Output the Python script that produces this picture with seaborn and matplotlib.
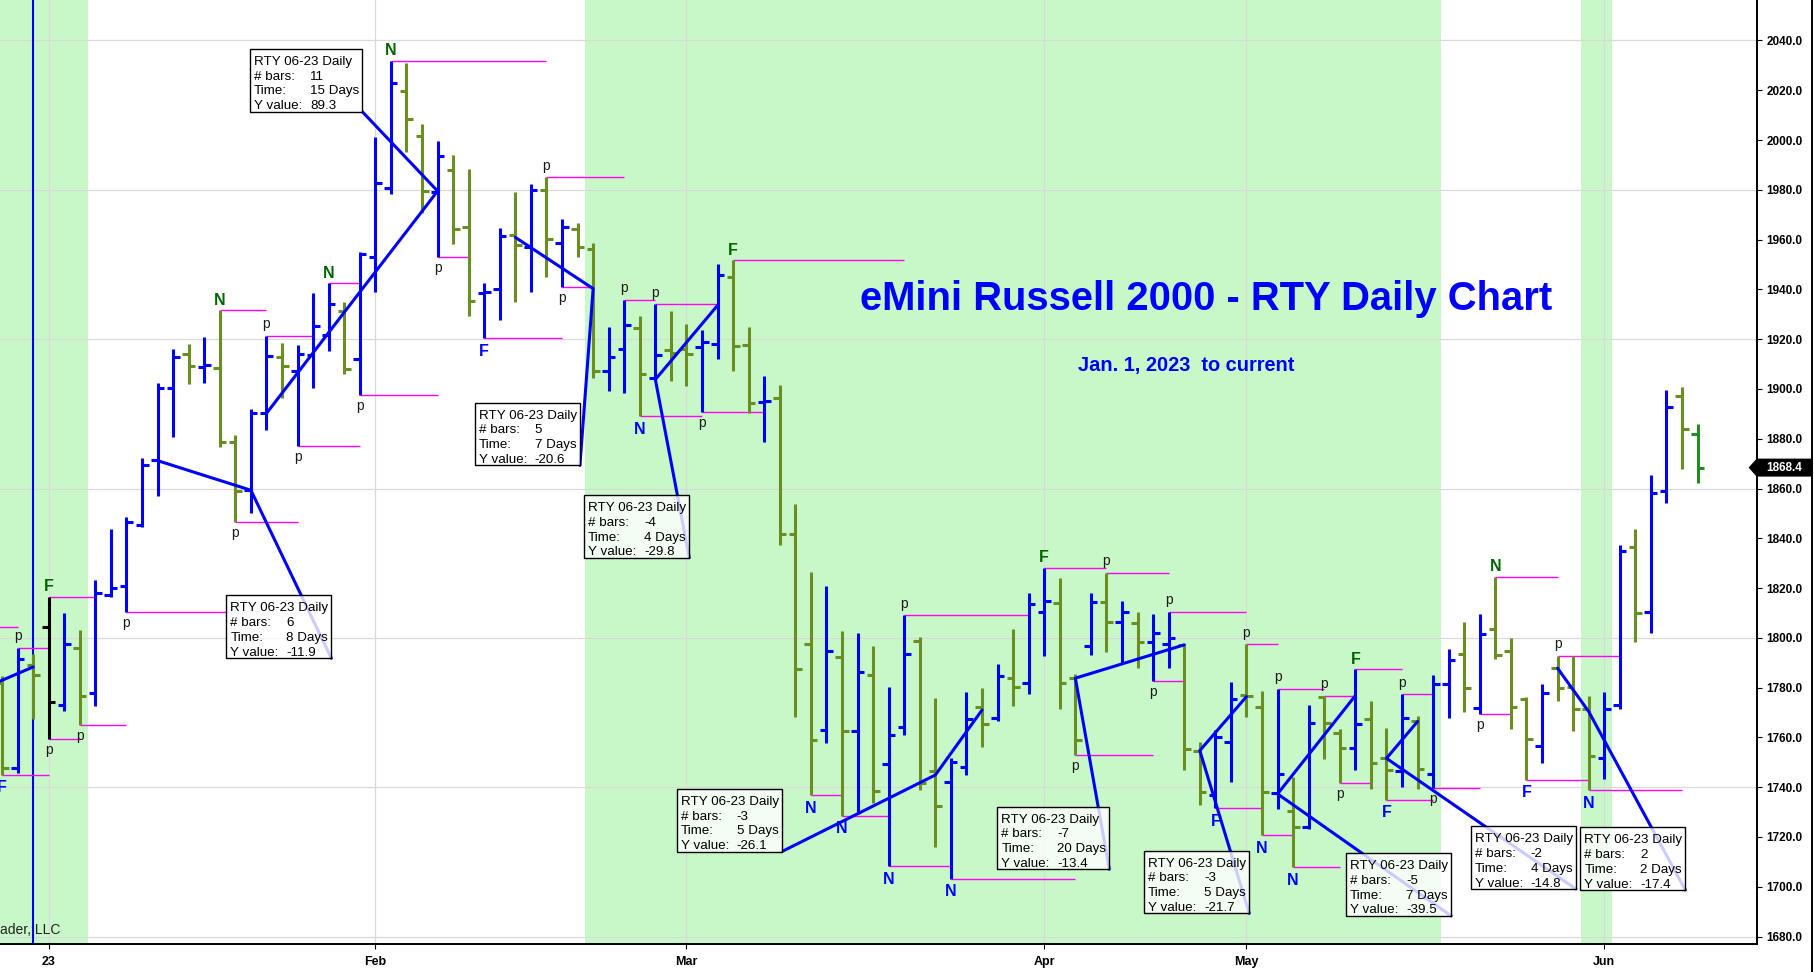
import numpy as np
import pandas as pd
import matplotlib
matplotlib.use("Agg")
import matplotlib.pyplot as plt
import matplotlib.transforms as mtransforms
from matplotlib.collections import LineCollection
from matplotlib.patches import Rectangle, Polygon
from matplotlib.lines import Line2D
import seaborn as sns

# ---------------- data ----------------
bar_idx = list(range(-3, 107))
opens = [1782.0, 1747.6, 1789.0, 1804.5, 1773.0, 1795.8, 1778.0, 1817.2, 1820.8, 1845.3,
         1871.5, 1900.3, 1914.0, 1909.0, 1908.3, 1878.8, 1859.4, 1890.4, 1912.8, 1907.1,
         1913.8, 1921.7, 1931.3, 1911.9, 1952.9, 1980.9, 2019.7, 2001.8, 1979.0, 1988.0,
         1965.2, 1938.4, 1940.0, 1961.9, 1957.2, 1979.9, 1958.8, 1964.1, 1956.1, 1907.2,
         1915.9, 1924.4, 1904.5, 1915.5, 1916.0, 1916.8, 1918.1, 1945.1, 1917.8, 1894.6,
         1896.2, 1841.6, 1797.5, 1763.0, 1792.2, 1762.7, 1785.0, 1749.3, 1764.3, 1798.9,
         1746.5, 1742.2, 1748.2, 1772.4, 1767.7, 1783.8, 1781.7, 1810.5, 1814.2, 1784.0,
         1796.9, 1814.5, 1806.5, 1806.1, 1798.5, 1797.5, 1797.1, 1754.7, 1736.9, 1758.0,
         1777.0, 1772.4, 1737.5, 1730.3, 1724.1, 1776.4, 1761.7, 1755.6, 1767.3, 1751.6,
         1746.6, 1766.7, 1745.2, 1781.3, 1793.4, 1771.7, 1803.4, 1794.9, 1775.3, 1756.7,
         1788.0, 1780.4, 1771.3, 1751.6, 1773.0, 1836.4, 1810.5, 1859.1, 1897.3, 1881.8]
highs = [1784.7, 1796.0, 1793.5, 1816.6, 1809.9, 1803.2, 1823.3, 1843.7, 1848.6, 1872.1,
         1902.3, 1915.9, 1918.1, 1921.0, 1931.7, 1881.3, 1891.8, 1921.3, 1918.6, 1917.5,
         1938.4, 1942.4, 1934.8, 1955.2, 2001.4, 2031.9, 2030.8, 2006.3, 1999.6, 1994.0,
         1988.2, 1942.4, 1964.8, 1979.3, 1982.3, 1985.0, 1968.2, 1966.8, 1958.8, 1924.8,
         1935.8, 1929.5, 1934.0, 1931.4, 1926.0, 1923.5, 1950.1, 1951.8, 1924.7, 1905.3,
         1901.5, 1853.6, 1826.3, 1820.8, 1802.9, 1801.8, 1796.7, 1780.1, 1809.0, 1800.2,
         1775.7, 1751.9, 1778.4, 1779.7, 1789.5, 1803.5, 1817.9, 1828.2, 1823.9, 1785.5,
         1817.9, 1826.2, 1814.8, 1810.3, 1809.5, 1810.5, 1797.5, 1758.3, 1763.0, 1782.1,
         1797.4, 1778.8, 1779.5, 1744.2, 1773.0, 1776.8, 1763.4, 1787.5, 1774.8, 1763.9,
         1777.3, 1768.7, 1785.1, 1795.4, 1806.5, 1809.5, 1824.6, 1799.8, 1776.4, 1781.5,
         1792.7, 1792.7, 1776.7, 1778.1, 1837.3, 1843.6, 1865.4, 1899.6, 1900.7, 1885.8]
lows = [1745.0, 1745.8, 1767.3, 1759.2, 1770.8, 1764.8, 1772.8, 1816.3, 1810.3, 1844.7,
        1857.0, 1880.8, 1902.0, 1902.3, 1876.5, 1846.5, 1850.0, 1883.7, 1896.2, 1877.0,
        1900.3, 1915.4, 1905.9, 1897.7, 1939.1, 1978.2, 1995.3, 1970.6, 1953.0, 1958.1,
        1929.3, 1920.5, 1927.7, 1935.1, 1939.1, 1945.1, 1940.8, 1952.9, 1904.3, 1899.0,
        1898.2, 1889.0, 1903.7, 1903.0, 1901.3, 1890.8, 1912.1, 1907.3, 1890.3, 1878.8,
        1837.5, 1768.1, 1736.7, 1757.9, 1728.6, 1729.2, 1733.5, 1708.2, 1761.0, 1738.9,
        1716.1, 1703.3, 1744.9, 1756.0, 1766.7, 1772.8, 1777.3, 1792.8, 1771.3, 1753.0,
        1793.1, 1794.5, 1789.8, 1787.8, 1782.6, 1787.8, 1746.9, 1732.9, 1731.7, 1742.0,
        1768.4, 1720.8, 1731.1, 1708.0, 1723.1, 1751.2, 1741.7, 1746.9, 1739.3, 1735.0,
        1740.0, 1739.1, 1739.7, 1767.7, 1770.1, 1769.5, 1791.4, 1763.3, 1743.0, 1749.9,
        1774.8, 1762.7, 1738.7, 1743.2, 1771.3, 1798.2, 1802.1, 1854.3, 1867.7, 1862.4]
closes = [1747.6, 1791.5, 1785.1, 1774.4, 1797.5, 1776.8, 1817.9, 1820.2, 1846.7, 1869.5,
          1900.3, 1912.7, 1909.2, 1909.6, 1878.6, 1859.0, 1890.5, 1913.2, 1909.4, 1914.2,
          1925.3, 1934.0, 1908.0, 1954.1, 1982.9, 2022.8, 2008.6, 1979.7, 1993.7, 1964.3,
          1935.3, 1939.1, 1961.6, 1958.0, 1979.9, 1960.1, 1965.2, 1956.9, 1907.4, 1913.0,
          1925.5, 1906.1, 1913.5, 1914.5, 1914.0, 1918.8, 1945.8, 1917.1, 1894.4, 1895.2,
          1841.6, 1787.3, 1759.0, 1794.9, 1762.6, 1786.4, 1738.6, 1761.0, 1793.5, 1741.5,
          1732.6, 1750.0, 1767.3, 1765.3, 1784.6, 1780.2, 1813.8, 1814.7, 1781.7, 1759.0,
          1814.5, 1806.5, 1810.3, 1798.5, 1801.8, 1799.8, 1755.2, 1738.2, 1760.3, 1775.3,
          1776.6, 1738.2, 1745.3, 1724.0, 1765.7, 1765.9, 1755.6, 1765.3, 1749.9, 1746.9,
          1767.9, 1747.2, 1781.3, 1791.1, 1779.7, 1801.4, 1793.1, 1772.1, 1759.2, 1777.7,
          1779.7, 1771.3, 1752.5, 1771.3, 1835.0, 1810.1, 1858.3, 1892.9, 1883.8, 1868.4]

month_ticks = [0, 21, 41, 64, 77, 100]
month_labels = ["23", "Feb", "Mar", "Apr", "May", "Jun"]

shade_periods = [(-4.0, 2.5), (34.5, 89.5), (98.5, 100.5)]

top_mark_bars = [-2, 0, 11, 14, 18, 22, 32, 37, 39, 44, 55, 64, 68, 72, 77, 79, 82, 84, 87, 93, 97]
top_mark_text = ["p", "F", "N", "p", "N", "N", "p", "p", "p", "F", "p", "F", "p", "p", "p", "p", "p", "F", "p", "N", "p"]
top_mark_end = [0, 3, 14, 17, 20, 32, 37, 39, 43, 55, 63, 68, 72, 77, 79, 82, 84, 87, 89, 97, 101]

bot_mark_bars = [-3, 0, 2, 5, 12, 16, 20, 25, 28, 33, 38, 42, 49, 51, 54, 58, 66, 71, 75, 78, 80, 83, 86, 89, 92, 95, 99]
bot_mark_text = ["F", "p", "p", "p", "p", "p", "p", "p", "F", "p", "N", "p", "N", "N", "N", "N", "p", "p", "F", "N", "N", "p", "F", "p", "p", "F", "N"]
bot_mark_end = [0, 2, 5, 11.5, 16, 20, 25, 27, 33, 35, 42, 46, 51, 54, 58, 66, 71, 73, 78, 80, 83, 85, 89, 92, 94, 99, 105]

# measurement-tool readings
meas_start = [14, 7, 30, 43, 60, 73, 77, 84, 88, 97]
meas_start_val = [1890.2, 1871.2, 1960.9, 1933.6, 1771.0, 1797.2, 1776.4, 1776.8, 1766.4, 1787.8]
meas_bars = [11, 6, 5, -4, -3, -7, -3, -5, -2, 2]
meas_days = [15, 8, 7, 4, 5, 20, 5, 7, 4, 2]
meas_yval = [89.3, -11.9, -20.6, -29.8, -26.1, -13.4, -21.7, -39.5, -14.8, -17.4]

# older reading partly visible at the left edge
left_line_x = [-5, -1]
left_line_y = [1777.6, 1788.3]
extra_level = [(-5, -2, 1804.2)]

last_price = 1868.4
symbol = "RTY 06-23 Daily"

# ---------------- layout ----------------
box_anchor_x = [20.16, 18.17, 34.15, 41.18, 47.12, 68.18, 77.18, 90.16, 98.18, 105.21]
box_anchor_y = [2011.4, 1791.8, 1869.3, 1832.2, 1714.1, 1707.0, 1689.3, 1688.3, 1699.1, 1698.7]

BLUE = "#0000ff"
OLIVE = "#6b8e23"
SHADE = "#c8f8c8"
MAGENTA = "#ff00ff"

sns.set_theme(style="white")
plt.rcParams["font.family"] = ["Liberation Sans", "DejaVu Sans"]

W, H, DPI = 1815, 972, 100
fig = plt.figure(figsize=(W / DPI, H / DPI), dpi=DPI, facecolor="white")
ax = fig.add_axes([0, 28 / H, 1757 / W, 944 / H])
ax.set_xlim(-3.131, 109.82)
ax.set_ylim(1677.0, 2056.27)
ax.set_facecolor("white")

for s, e in shade_periods:
    ax.axvspan(s, e, color=SHADE, lw=0, zorder=0)
for yv in range(1680, 2041, 60):
    ax.axhline(yv, color="#d9d9d9", lw=0.9, zorder=0.5)
for xv in month_ticks:
    ax.axvline(xv, color="#d9d9d9", lw=0.9, zorder=0.5)

ax.axvline(-1, color=BLUE, lw=1.5, zorder=1.6)

# OHLC bars
df = pd.DataFrame(dict(i=bar_idx, o=opens, h=highs, l=lows, c=closes))
override = {0: "black", 106: "#228b22"}
segs, cols = [], []
tl = 0.42
for r in df.itertuples():
    col = BLUE if r.c > r.o else OLIVE
    col = override.get(r.i, col)
    segs += [[(r.i, r.l), (r.i, r.h)], [(r.i - tl, r.o), (r.i, r.o)], [(r.i, r.c), (r.i + tl, r.c)]]
    cols += [col] * 3
ax.add_collection(LineCollection(segs, colors=cols, linewidths=2.2, capstyle="butt", zorder=2))

# magenta levels
H_of = dict(zip(bar_idx, highs))
L_of = dict(zip(bar_idx, lows))
mag = []
for b, e in zip(top_mark_bars, top_mark_end):
    mag.append([(b, H_of[b]), (e, H_of[b])])
for b, e in zip(bot_mark_bars, bot_mark_end):
    mag.append([(b, L_of[b]), (e, L_of[b])])
for s, e, v in extra_level:
    mag.append([(s, v), (e, v)])
ax.add_collection(LineCollection(mag, colors=MAGENTA, linewidths=1.0, zorder=1.8))

# markers
for b, t in zip(top_mark_bars, top_mark_text):
    if t == "p":
        ax.annotate("p", (b, H_of[b]), xytext=(0, 7.8), textcoords="offset pixels",
                    ha="center", va="baseline", fontsize=10, color="#1a1a1a", zorder=4)
    else:
        ax.annotate(t, (b, H_of[b]), xytext=(0, 5.3), textcoords="offset pixels",
                    ha="center", va="baseline", fontsize=11.5, fontweight="bold",
                    color="#006400", zorder=4)
for b, t in zip(bot_mark_bars, bot_mark_text):
    if t == "p":
        ax.annotate("p", (b, L_of[b]), xytext=(0, -14.9), textcoords="offset pixels",
                    ha="center", va="baseline", fontsize=10, color="#1a1a1a", zorder=4)
    else:
        ax.annotate(t, (b, L_of[b]), xytext=(0, -17.7), textcoords="offset pixels",
                    ha="center", va="baseline", fontsize=11.5, fontweight="bold",
                    color=BLUE, zorder=4)

# measurement lines (seaborn)
rows = []
for k in range(len(meas_start)):
    a, va_ = meas_start[k], meas_start_val[k]
    b, vb = a + meas_bars[k], va_ + meas_yval[k]
    rows += [(k, 0, a, va_), (k, 1, b, vb), (k, 2, box_anchor_x[k], box_anchor_y[k])]
mdf = pd.DataFrame(rows, columns=["id", "step", "x", "y"])
sns.lineplot(data=mdf, x="x", y="y", units="id", estimator=None, sort=False,
             color=BLUE, lw=2.2, ax=ax, legend=False, zorder=3)
ax.plot(left_line_x, left_line_y, color=BLUE, lw=2.2, zorder=3)
ax.set_xlim(-3.131, 109.82)
ax.set_ylim(1677.0, 2056.27)
ax.set_xlabel("")
ax.set_ylabel("")

# axes / ticks
for sp in ["left", "top"]:
    ax.spines[sp].set_visible(False)
for sp in ["right", "bottom"]:
    ax.spines[sp].set_visible(True)
    ax.spines[sp].set_color("black")
    ax.spines[sp].set_linewidth(1.4)
ax.yaxis.tick_right()
ax.set_yticks(np.arange(1680, 2041, 20))
ax.set_yticklabels([f"{v:.1f}" for v in np.arange(1680, 2041, 20)])
ax.set_xticks(month_ticks)
ax.set_xticklabels(month_labels)
ax.tick_params(axis="y", which="major", direction="out", length=3.6, width=0.8,
               labelsize=8.5, pad=3.4, colors="black", right=True, left=False)
ax.tick_params(axis="x", which="major", direction="out", length=3.6, width=0.8,
               labelsize=9, pad=5, colors="black", bottom=True)
for lab in ax.get_yticklabels() + ax.get_xticklabels():
    lab.set_fontweight("bold")

ax.text(0.6867, 1 - 309.5 / 944, "eMini Russell 2000 - RTY Daily Chart", transform=ax.transAxes,
        ha="center", va="baseline", fontsize=28.8, fontweight="bold", color=BLUE, zorder=6)
ax.text(0.6753, 1 - 371 / 944, "Jan. 1, 2023  to current", transform=ax.transAxes,
        ha="center", va="baseline", fontsize=14.4, fontweight="bold", color=BLUE, zorder=6)

fig.text(0.0, 1 - 934 / H, "ader, LLC", ha="left", va="baseline", fontsize=10, color="#222222")
fig.add_artist(Line2D([1812.5 / W] * 2, [0, 1], transform=fig.transFigure, color="black", lw=1.4))

# measurement boxes
fig.canvas.draw()
renderer = fig.canvas.get_renderer()
ident = mtransforms.IdentityTransform()
BOX_H = 62.8
FS = 9.6
for k in range(len(meas_start)):
    bx, by = ax.transData.transform((box_anchor_x[k], box_anchor_y[k]))
    top = by + BOX_H
    pairs = [("# bars:", f"{meas_bars[k]}"), ("Time:", f"{meas_days[k]} Days"),
             ("Y value:", f"{meas_yval[k]:.1f}")]
    t0 = fig.text(0, 0, symbol, transform=ident, fontsize=FS, color="black",
                  ha="left", va="baseline", zorder=11)
    labs, vals = [], []
    for lab, val in pairs:
        labs.append(fig.text(0, 0, lab, transform=ident, fontsize=FS, color="black",
                             ha="left", va="baseline", zorder=11))
        vals.append(fig.text(0, 0, val, transform=ident, fontsize=FS, color="black",
                             ha="left", va="baseline", zorder=11))
    wt = t0.get_window_extent(renderer).width
    wv = max(v.get_window_extent(renderer).width for v in vals)
    bw = max(4 + wt + 3.0, 60 + wv + 3.0)
    left = bx - bw
    t0.set_position((left + 4, top - 16))
    for j, (lt, vt) in enumerate(zip(labs, vals)):
        yb = top - 16 - 14.8 * (j + 1)
        lt.set_position((left + 4, yb))
        vt.set_position((left + 60, yb))
    fig.add_artist(Rectangle((left, by), bw, BOX_H, transform=ident,
                             facecolor=(1, 1, 1, 0.8), edgecolor="black", lw=1.0, zorder=10))

# last price tag
yp = ax.transData.transform((0, last_price))[1]
hh = 8.3
verts = [(1749.5, yp), (1757, yp + hh), (1811.5, yp + hh), (1811.5, yp - hh), (1757, yp - hh)]
fig.add_artist(Polygon(verts, closed=True, transform=ident, facecolor="black",
                       edgecolor="black", zorder=10))
fig.text(1784.5, yp, f"{last_price:.1f}", transform=ident, ha="center", va="center",
         fontsize=8.5, fontweight="bold", color="white", zorder=11)

fig.savefig("out.png", dpi=DPI, facecolor="white")
